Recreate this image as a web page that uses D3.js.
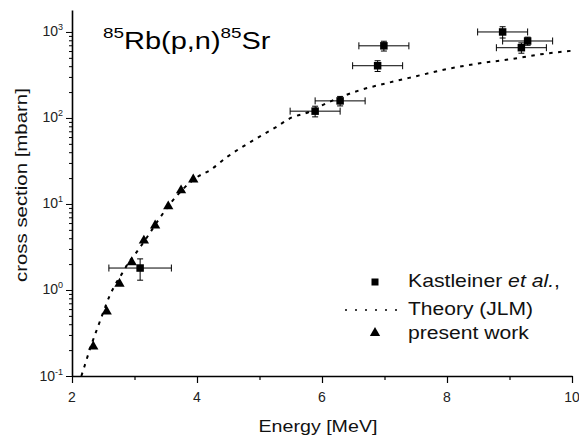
<!DOCTYPE html>
<html>
<head>
<meta charset="utf-8">
<script src="https://cdn.jsdelivr.net/npm/d3@7"></script>
<style>
  html, body { margin: 0; padding: 0; background: #fff; }
  svg { display: block; font-family: "Liberation Sans", Arial, sans-serif; }
</style>
</head>
<body>
<svg id="chart" width="579" height="435"></svg>
<script>
// Kastleiner et al. measurements (energy in MeV, cross section in mbarn)
const kastEnergy = [3.09, 5.89, 6.29, 6.89, 6.99, 8.89, 9.19, 9.29];
const kastXS     = [1.8, 120, 158, 405, 690, 1000, 656, 785];
const kastErrE   = [0.5, 0.4, 0.4, 0.4, 0.4, 0.4, 0.4, 0.4];
const kastErrXS  = [0.5, 17, 20, 58, 90, 150, 90, 85];

// present work
const presEnergy = [2.34, 2.555, 2.76, 2.955, 3.15, 3.33, 3.54, 3.745, 3.94];
const presXS     = [0.223, 0.57, 1.2, 2.13, 3.8, 5.7, 9.5, 14.6, 19.5];

// JLM theory curve
const theoEnergy = [2.15, 2.2, 2.3, 2.4, 2.5, 2.6, 2.7, 2.8, 2.9, 3.0, 3.2, 3.4, 3.6, 3.8, 4.0, 4.2, 4.5, 4.9, 5.25, 5.5, 5.8, 6.0, 6.3, 6.6, 7.0, 7.5, 8.0, 8.5, 9.0, 9.5, 10.0];
const theoXS     = [0.1, 0.13, 0.22, 0.35, 0.55, 0.85, 1.18, 1.55, 2.05, 2.55, 4.1, 6.8, 10.7, 15.5, 20.5, 24.5, 36, 55, 77, 100, 118, 140, 175, 210, 250, 305, 370, 430, 480, 550, 605];

// axis ticks
const xMajorTicks = [2, 4, 6, 8, 10];
const xMinorTicks = [3, 5, 7, 9];
const yDecades    = [-1, 0, 1, 2, 3];

const svg = d3.select("#chart");
const x = d3.scaleLinear().domain([2, 10]).range([72, 572]);
const y = d3.scaleLog().domain([0.1, 1800]).range([376, 10]);

// scale a text horizontally so it spans the given width
function fitWidth(t, px, py, width, anchor) {
  const w = t.node().getBBox().width;
  const s = width / w;
  let ox = 0;
  if (anchor === "middle") ox = -width / 2;
  if (anchor === "end") ox = -width;
  t.attr("transform", `translate(${px + ox},${py}) scale(${s},1)`);
}

// ---- axes ----
const yMinor = [];
for (let e = -1; e <= 3; e++) for (let m = 2; m <= 9; m++) {
  const v = m * Math.pow(10, e);
  if (v <= 1800) yMinor.push(v);
}
const yMajor = yDecades.map(e => Math.pow(10, e));

const gy = svg.append("g").attr("transform", "translate(72,0)");
gy.call(d3.axisLeft(y).tickValues(yMinor).tickSize(3).tickSizeOuter(0).tickFormat(""));
gy.append("g").call(d3.axisLeft(y).tickValues(yMajor).tickSize(6).tickSizeOuter(0).tickFormat(""))
  .select(".domain").remove();
gy.selectAll(".tick line").attr("stroke", "#000").attr("stroke-width", 1);
gy.select(".domain").attr("stroke", "#000").attr("stroke-width", 1.6);

const gx = svg.append("g").attr("transform", "translate(0,376)");
gx.call(d3.axisBottom(x).tickValues(xMinorTicks).tickSize(4).tickSizeOuter(0).tickFormat(""));
gx.append("g").call(d3.axisBottom(x).tickValues(xMajorTicks).tickSize(7).tickSizeOuter(0).tickFormat(""))
  .select(".domain").remove();
gx.selectAll(".tick line").attr("stroke", "#000").attr("stroke-width", 1.2);
gx.select(".domain").attr("stroke", "#000").attr("stroke-width", 1.6);

// y tick labels 10^n
yDecades.forEach(e => {
  const t = svg.append("text")
    .attr("x", 63).attr("y", y(Math.pow(10, e)) + 4.5)
    .attr("text-anchor", "end").attr("font-size", 14).attr("fill", "#222");
  t.append("tspan").text("10");
  t.append("tspan").attr("font-size", 9).attr("dy", -6).text(String(e));
});

// x tick labels
xMajorTicks.forEach(v => {
  svg.append("text")
    .attr("x", x(v)).attr("y", 402)
    .attr("text-anchor", "middle").attr("font-size", 14).attr("fill", "#222")
    .text(v);
});

// axis titles
fitWidth(svg.append("text").attr("font-size", 17).attr("fill", "#111").text("Energy [MeV]"),
  318, 432, 119, "middle");
const yt = svg.append("text").attr("font-size", 17).attr("fill", "#111").text("cross section [mbarn]");
{
  const w = yt.node().getBBox().width;
  const s = 194 / w;
  yt.attr("transform", `translate(27,282) rotate(-90) scale(${s},1)`);
}

// title
const title = svg.append("text").attr("font-size", 23).attr("fill", "#000");
title.append("tspan").attr("font-size", 15).attr("dy", -11).text("85");
title.append("tspan").attr("dy", 11).text("Rb(p,n)");
title.append("tspan").attr("font-size", 15).attr("dy", -11).text("85");
title.append("tspan").attr("dy", 11).text("Sr");
fitWidth(title, 103, 49, 168, "start");

// ---- theory curve ----
const theory = theoEnergy.map((e, i) => [e, theoXS[i]]);
svg.append("path")
  .datum(theory)
  .attr("fill", "none")
  .attr("stroke", "#000")
  .attr("stroke-width", 2)
  .attr("stroke-dasharray", "3.5,5.5")
  .attr("d", d3.line().x(d => x(d[0])).y(d => y(d[1])).curve(d3.curveMonotoneX));

// ---- Kastleiner error bars and markers ----
const kast = kastEnergy.map((e, i) => ({ e, v: kastXS[i], de: kastErrE[i], dv: kastErrXS[i] }));
const eb = svg.append("g").attr("stroke", "#000").attr("stroke-width", 1);
kast.forEach(d => {
  const cx = x(d.e), cy = y(d.v);
  const x0 = x(d.e - d.de), x1 = x(d.e + d.de);
  const y0 = y(d.v - d.dv), y1 = y(d.v + d.dv);
  eb.append("line").attr("x1", x0).attr("x2", x1).attr("y1", cy).attr("y2", cy);
  eb.append("line").attr("x1", x0).attr("x2", x0).attr("y1", cy - 3.5).attr("y2", cy + 3.5);
  eb.append("line").attr("x1", x1).attr("x2", x1).attr("y1", cy - 3.5).attr("y2", cy + 3.5);
  eb.append("line").attr("x1", cx).attr("x2", cx).attr("y1", y0).attr("y2", y1);
  eb.append("line").attr("x1", cx - 3).attr("x2", cx + 3).attr("y1", y0).attr("y2", y0);
  eb.append("line").attr("x1", cx - 3).attr("x2", cx + 3).attr("y1", y1).attr("y2", y1);
});
svg.append("g").selectAll("rect").data(kast).join("rect")
  .attr("x", d => x(d.e) - 3.75).attr("y", d => y(d.v) - 3.75)
  .attr("width", 7.5).attr("height", 7.5).attr("fill", "#000");

// ---- present work markers ----
const tri = d3.symbol().type(d3.symbolTriangle).size(46);
svg.append("g").selectAll("path").data(presEnergy.map((e, i) => [e, presXS[i]])).join("path")
  .attr("transform", d => `translate(${x(d[0])},${y(d[1]) + 0.5})`)
  .attr("d", tri).attr("fill", "#000");

// ---- legend ----
const lg = svg.append("g");
lg.append("rect").attr("x", 371.5).attr("y", 278.5).attr("width", 7).attr("height", 7).attr("fill", "#000");
lg.append("line").attr("x1", 345).attr("x2", 403).attr("y1", 310).attr("y2", 310)
  .attr("stroke", "#000").attr("stroke-width", 1.5).attr("stroke-dasharray", "2,8");
lg.append("path").attr("transform", "translate(375,333)").attr("d", tri).attr("fill", "#000");

const l1 = lg.append("text").attr("font-size", 18).attr("fill", "#111");
l1.append("tspan").text("Kastleiner ");
l1.append("tspan").attr("font-style", "italic").text("et al.");
l1.append("tspan").text(",");
fitWidth(l1, 408, 287, 152, "start");
fitWidth(lg.append("text").attr("font-size", 18).attr("fill", "#111").text("Theory (JLM)"), 408, 315, 125, "start");
fitWidth(lg.append("text").attr("font-size", 18).attr("fill", "#111").text("present work"), 408, 339, 122, "start");
</script>
</body>
</html>
